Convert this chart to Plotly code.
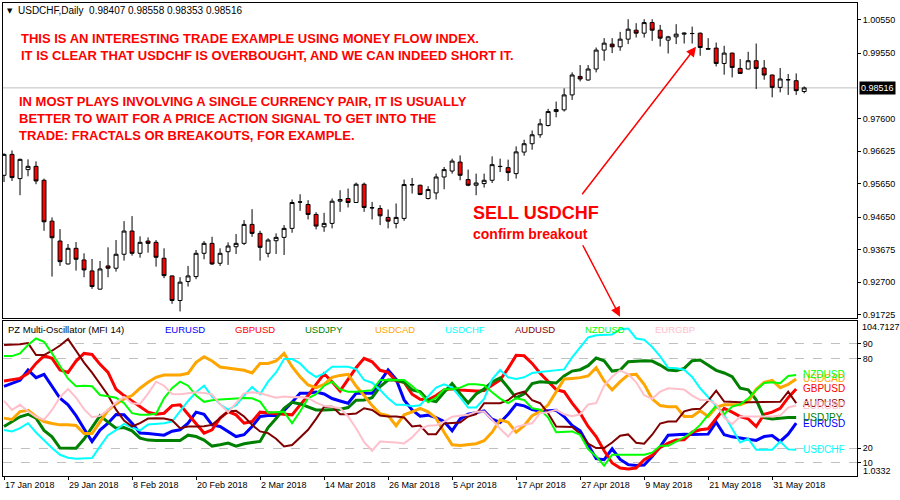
import plotly.graph_objects as go
import pandas as pd

# ---------------- data ----------------
dates = pd.bdate_range("2018-01-17", "2018-06-06").strftime("%Y-%m-%d").tolist()

open_ = [0.95899, 0.96525, 0.95800, 0.96069, 0.96167, 0.95750, 0.94527, 0.93931, 0.93245, 0.93713,
         0.93365, 0.93037, 0.92491, 0.93186, 0.93117, 0.93535, 0.94230, 0.93564, 0.93931, 0.93892,
         0.93415, 0.92887, 0.92151, 0.92718, 0.92867, 0.93564, 0.93862, 0.93266, 0.93612, 0.93761,
         0.93862, 0.94429, 0.94160, 0.93564, 0.93940, 0.94041, 0.94310, 0.95103, 0.95025, 0.94727,
         0.94357, 0.94459, 0.95124, 0.95204, 0.95085, 0.95631, 0.94930, 0.94906, 0.94638, 0.94459,
         0.94608, 0.95622, 0.95601, 0.95204, 0.95371, 0.95848, 0.96027, 0.96295, 0.95771, 0.95601,
         0.95651, 0.95750, 0.96167, 0.96128, 0.95949, 0.96594, 0.96844, 0.97112, 0.97390, 0.97807,
         0.97858, 0.98305, 0.98859, 0.98752, 0.99080, 0.99647, 0.99826, 0.99745, 0.99975, 1.00243,
         1.00153, 1.00470, 1.00243, 0.99945, 1.00043, 1.00124, 1.00141, 1.00153, 0.99694, 0.99706,
         0.99247, 0.99557, 0.99098, 0.99080, 0.99328, 0.99110, 0.98901, 0.98531, 0.98761, 0.98731,
         0.98407]
high = [0.96555, 0.96644, 0.96397, 0.96376, 0.96316, 0.95800, 0.94638, 0.94289, 0.93842, 0.93901,
        0.93564, 0.93394, 0.93335, 0.93743, 0.93961, 0.94527, 0.94677, 0.94071, 0.94041, 0.93961,
        0.93713, 0.92900, 0.92849, 0.93186, 0.93663, 0.93931, 0.94059, 0.93713, 0.93892, 0.94140,
        0.94557, 0.94885, 0.94238, 0.94012, 0.94160, 0.94408, 0.95175, 0.95332, 0.95154, 0.94796,
        0.94775, 0.95204, 0.95452, 0.95502, 0.95681, 0.95681, 0.95103, 0.95004, 0.94876, 0.95055,
        0.95771, 0.95819, 0.95616, 0.95571, 0.95949, 0.96147, 0.96397, 0.96495, 0.96069, 0.95949,
        0.95949, 0.96466, 0.96397, 0.96367, 0.96764, 0.96963, 0.97240, 0.97589, 0.97888, 0.98105,
        0.98502, 0.98979, 0.99199, 0.99199, 0.99724, 1.00004, 1.00004, 1.00192, 1.00571, 1.00452,
        1.00571, 1.00571, 1.00401, 1.00073, 1.00422, 1.00171, 1.00350, 1.00171, 1.00004, 0.99873,
        0.99775, 0.99566, 0.99378, 0.99596, 0.99843, 0.99348, 0.98910, 0.99110, 0.98931, 0.98949,
        0.98558]
low = [0.95699, 0.95729, 0.95303, 0.95869, 0.95631, 0.94238, 0.92867, 0.93186, 0.93230, 0.93046,
       0.92849, 0.92500, 0.92480, 0.92849, 0.93016, 0.93344, 0.93493, 0.93433, 0.93582, 0.93165,
       0.92819, 0.92053, 0.91823, 0.92569, 0.92789, 0.93385, 0.93216, 0.93186, 0.93216, 0.93544,
       0.93812, 0.94059, 0.93344, 0.93445, 0.93544, 0.93514, 0.94179, 0.94834, 0.94578, 0.94280,
       0.94208, 0.94310, 0.94805, 0.94936, 0.95070, 0.94805, 0.94578, 0.94408, 0.94310, 0.94310,
       0.94536, 0.95353, 0.95303, 0.95175, 0.95175, 0.95481, 0.95949, 0.95750, 0.95571, 0.95303,
       0.95532, 0.95669, 0.95997, 0.95729, 0.95800, 0.96486, 0.96665, 0.97023, 0.97360, 0.97637,
       0.97807, 0.98156, 0.98710, 0.98731, 0.98979, 0.99328, 0.99557, 0.99626, 0.99826, 1.00022,
       1.00022, 0.99924, 0.99754, 0.99545, 0.99826, 0.99843, 0.99843, 0.99477, 0.99670, 0.99158,
       0.98910, 0.98830, 0.98943, 0.99074, 0.98484, 0.98761, 0.98233, 0.98382, 0.98305, 0.98305,
       0.98353]
close = [0.96525, 0.95830, 0.96376, 0.96167, 0.95729, 0.94507, 0.94030, 0.93314, 0.93713, 0.93385,
         0.93067, 0.92569, 0.93096, 0.93117, 0.93535, 0.94230, 0.93564, 0.93892, 0.93862, 0.93445,
         0.92896, 0.92151, 0.92700, 0.92887, 0.93564, 0.93862, 0.93245, 0.93564, 0.93782, 0.93862,
         0.94429, 0.94160, 0.93743, 0.93961, 0.94041, 0.94310, 0.95085, 0.95097, 0.94727, 0.94378,
         0.94459, 0.95124, 0.95175, 0.95085, 0.95631, 0.94936, 0.94924, 0.94686, 0.94527, 0.94638,
         0.95622, 0.95613, 0.95324, 0.95472, 0.95848, 0.96069, 0.96325, 0.95899, 0.95601, 0.95669,
         0.95750, 0.96218, 0.96161, 0.95979, 0.96600, 0.96844, 0.97112, 0.97440, 0.97807, 0.97867,
         0.98305, 0.98901, 0.98782, 0.99080, 0.99647, 0.99855, 0.99745, 0.99975, 1.00273, 1.00153,
         1.00470, 1.00243, 1.00004, 1.00043, 1.00124, 1.00153, 1.00144, 0.99724, 0.99676, 0.99247,
         0.99557, 0.99128, 0.98949, 0.99328, 0.99098, 0.98901, 0.98531, 0.98782, 0.98758, 0.98433,
         0.98516]

price_ticks = [1.00550, 0.99550, 0.97600, 0.96625, 0.95650, 0.94650, 0.93675, 0.92700, 0.91725]
bid_price = 0.98516

# MFI(14) per pair
eurusd = [61.3, 63.3, 65.3, 72.2, 67.1, 69.3, 61.1, 53.3, 48.9, 41.7,
          32.9, 24.4, 32.0, 36.6, 42.4, 42.2, 36.6, 30.0, 29.7, 28.9,
          28.6, 31.3, 32.2, 36.6, 44.0, 42.6, 35.5, 34.4, 31.1, 27.7,
          28.9, 34.4, 41.1, 41.7, 41.7, 45.1, 50.6, 56.6, 56.6, 57.5,
          56.2, 53.1, 51.5, 50.0, 56.6, 56.6, 56.6, 64.4, 72.2, 66.0,
          52.2, 45.5, 41.3, 42.0, 40.4, 37.7, 31.5, 39.5, 42.6, 43.7,
          44.9, 39.3, 37.1, 42.6, 49.3, 48.2, 45.7, 44.6, 45.1, 45.3,
          41.1, 35.1, 31.5, 22.2, 12.9, 12.2, 19.5, 12.4, 8.9, 8.4,
          8.6, 14.4, 20.9, 28.6, 29.1, 29.3, 29.1, 29.3, 29.3, 37.3,
          28.9, 27.5, 26.6, 26.2, 25.1, 27.7, 28.4, 24.4, 29.3, 36.6]
gbpusd = [64.9, 66.0, 66.6, 70.0, 76.6, 81.7, 80.0, 72.2, 70.6, 78.2,
          83.3, 82.6, 76.0, 70.6, 59.3, 55.1, 51.5, 47.3, 44.0, 42.6,
          43.3, 48.4, 48.9, 42.6, 36.2, 30.0, 32.2, 40.0, 44.4, 42.2,
          36.6, 37.7, 44.0, 43.5, 43.3, 42.6, 42.2, 48.9, 55.1, 62.6,
          69.7, 64.4, 58.2, 66.0, 73.7, 80.0, 77.7, 72.0, 70.6, 64.9,
          64.0, 56.0, 52.6, 52.2, 55.1, 58.9, 59.7, 58.9, 58.4, 58.2,
          58.4, 62.2, 65.5, 73.3, 82.0, 81.7, 76.6, 70.0, 64.4, 59.1,
          57.7, 50.0, 43.3, 34.4, 27.7, 18.2, 10.0, 6.6, 6.0, 6.6,
          12.2, 15.1, 20.4, 23.3, 25.3, 25.5, 30.6, 32.2, 32.9, 40.0,
          46.6, 44.0, 41.1, 39.5, 34.4, 42.6, 44.0, 46.6, 53.7, 59.5]
usdjpy = [34.4, 37.7, 40.9, 42.6, 40.0, 31.8, 27.5, 20.0, 19.8, 19.8,
          26.0, 33.7, 41.7, 37.3, 33.3, 33.7, 31.5, 26.6, 25.3, 25.1,
          25.1, 25.1, 25.1, 28.6, 27.7, 25.3, 21.3, 22.2, 23.3, 21.3,
          22.9, 23.7, 24.4, 33.7, 39.7, 46.6, 50.6, 49.5, 47.3, 45.5,
          45.5, 45.5, 46.0, 47.1, 52.0, 52.2, 53.7, 61.1, 65.5, 65.5,
          64.0, 58.9, 57.7, 52.0, 51.1, 57.3, 63.1, 56.4, 50.2, 56.2,
          59.5, 64.2, 66.9, 60.4, 53.5, 56.2, 63.1, 64.4, 63.7, 63.5,
          68.2, 71.5, 72.4, 75.1, 80.2, 78.4, 71.5, 72.2, 77.7, 78.2,
          78.4, 78.2, 75.5, 72.2, 71.7, 73.3, 78.4, 78.9, 75.5, 72.0,
          70.2, 67.7, 60.0, 58.9, 52.2, 40.4, 39.5, 40.2, 40.4, 40.4]
usdcad = [40.0, 39.1, 44.4, 45.3, 41.1, 37.7, 36.4, 35.5, 35.5, 35.1,
          29.7, 29.7, 37.5, 45.3, 49.5, 52.9, 55.1, 60.0, 64.0, 67.3,
          68.9, 68.9, 68.9, 70.0, 77.3, 81.1, 78.2, 74.2, 73.5, 72.8,
          72.0, 70.2, 76.6, 76.6, 78.2, 83.3, 74.4, 67.7, 62.2, 60.4,
          62.6, 67.3, 68.6, 69.3, 61.5, 55.1, 48.4, 42.9, 41.7, 34.9,
          42.2, 44.2, 46.6, 44.2, 40.0, 30.6, 22.2, 21.7, 22.4, 22.9,
          24.9, 30.6, 38.9, 37.3, 30.6, 34.9, 41.7, 44.4, 48.9, 57.1,
          66.2, 66.6, 67.1, 68.2, 73.7, 64.9, 58.9, 64.4, 68.9, 69.3,
          62.6, 52.9, 48.4, 47.7, 47.7, 41.1, 41.1, 44.9, 41.1, 47.3,
          48.9, 48.9, 48.9, 51.1, 59.3, 64.0, 65.3, 60.4, 62.6, 66.2]
usdchf = [32.0, 31.1, 33.3, 36.6, 30.4, 25.1, 20.0, 15.5, 13.5, 12.9,
          12.9, 13.3, 21.1, 28.6, 32.0, 36.2, 33.7, 31.8, 35.7, 36.2,
          36.6, 37.7, 44.4, 51.5, 57.3, 61.7, 54.4, 49.3, 45.5, 48.6,
          55.1, 60.9, 56.0, 64.4, 70.6, 79.5, 79.5, 76.6, 71.1, 67.5,
          70.0, 74.4, 74.4, 74.4, 72.8, 65.5, 63.7, 58.9, 53.3, 48.9,
          48.9, 48.0, 48.6, 54.4, 60.4, 62.6, 60.4, 54.0, 47.1, 47.1,
          52.9, 66.0, 72.2, 67.3, 66.2, 67.3, 70.2, 70.9, 71.3, 71.7,
          72.6, 80.6, 87.7, 94.0, 95.5, 95.5, 96.0, 99.5, 100.0, 93.3,
          92.4, 87.7, 81.3, 73.7, 73.3, 72.4, 67.5, 60.0, 54.2, 48.2,
          42.2, 32.9, 23.7, 26.2, 18.9, 18.9, 18.9, 24.4, 19.1, 18.9]
audusd = [88.9, 89.1, 89.5, 90.2, 82.2, 82.2, 85.1, 88.6, 92.9, 85.1,
          77.1, 70.4, 62.6, 55.3, 45.7, 38.4, 34.4, 36.6, 39.7, 40.0,
          39.7, 38.6, 33.3, 34.4, 34.4, 34.6, 35.5, 40.0, 44.4, 44.9,
          41.1, 35.5, 31.1, 30.0, 26.2, 21.1, 22.0, 27.1, 32.2, 39.5,
          47.7, 47.7, 42.6, 42.6, 43.1, 46.6, 45.5, 41.7, 41.1, 41.1,
          40.4, 34.4, 35.1, 29.3, 29.3, 36.4, 36.6, 37.1, 41.1, 42.6,
          50.0, 50.0, 50.0, 52.0, 56.2, 57.7, 52.0, 50.0, 43.3, 34.4,
          34.4, 34.0, 29.5, 22.9, 20.0, 20.0, 23.7, 28.2, 29.1, 23.5,
          22.9, 28.9, 36.4, 37.7, 37.7, 44.6, 46.0, 46.2, 51.5, 58.4,
          51.1, 50.6, 50.6, 50.6, 50.6, 50.9, 50.9, 50.9, 57.7, 50.0]
nzdusd = [81.5, 81.5, 83.3, 88.9, 93.3, 91.1, 83.3, 74.4, 66.4, 61.3,
          61.7, 61.3, 55.5, 54.6, 53.7, 50.0, 43.3, 42.2, 42.2, 42.9,
          53.3, 60.0, 64.4, 61.7, 55.1, 50.9, 52.0, 52.4, 52.9, 53.1,
          53.5, 53.3, 51.1, 43.7, 44.0, 44.2, 36.6, 44.4, 53.3, 56.0,
          61.7, 64.4, 59.3, 57.7, 57.7, 58.0, 58.6, 65.5, 65.5, 65.5,
          65.5, 61.5, 56.6, 50.6, 53.7, 59.3, 59.3, 60.4, 62.6, 62.6,
          62.0, 57.3, 53.1, 50.0, 53.3, 52.2, 46.6, 45.7, 40.4, 30.6,
          31.1, 31.1, 28.9, 19.3, 14.4, 8.2, 15.5, 15.5, 15.5, 15.5,
          15.5, 16.9, 21.5, 21.5, 24.4, 27.1, 30.6, 35.5, 42.2, 48.4,
          42.6, 47.7, 49.3, 53.1, 58.9, 63.5, 64.0, 63.3, 68.2, 68.9]
eurgbp = [51.5, 45.5, 48.9, 44.4, 41.1, 38.9, 45.5, 54.0, 59.5, 53.7,
          46.0, 40.6, 41.5, 45.5, 50.4, 54.2, 50.0, 49.5, 56.4, 64.4,
          61.7, 56.2, 56.0, 56.6, 57.3, 56.9, 55.8, 49.3, 44.0, 50.0,
          56.6, 57.3, 56.6, 55.1, 53.7, 54.4, 54.0, 54.2, 53.5, 50.4,
          48.2, 47.5, 46.6, 41.1, 33.3, 24.0, 18.2, 24.4, 24.2, 23.7,
          23.1, 27.1, 32.9, 34.9, 35.3, 37.7, 40.9, 41.7, 42.2, 44.2,
          44.4, 38.9, 32.9, 27.7, 34.2, 35.5, 36.6, 43.3, 44.0, 45.5,
          42.6, 41.3, 42.6, 49.1, 50.0, 61.7, 67.7, 72.0, 69.5, 64.0,
          55.3, 52.9, 57.7, 60.0, 59.7, 59.1, 55.1, 52.2, 52.2, 49.3,
          40.4, 36.0, 41.1, 41.1, 41.1, 41.1, 41.1, 41.7, 47.1, 48.4]

pairs = ["EURUSD", "GBPUSD", "USDJPY", "USDCAD", "USDCHF", "AUDUSD", "NZDUSD", "EURGBP"]
mfi = [eurusd, gbpusd, usdjpy, usdcad, usdchf, audusd, nzdusd, eurgbp]
colors = ["#0000ff", "#ff0000", "#008000", "#ffa500", "#00ffff", "#800000", "#00ff00", "#ffc0cb"]
widths = [3, 3, 3, 3, 2, 2, 2, 2]
osc_levels = [90, 80, 20, 10]
osc_min, osc_max = 1.0332, 104.7127

tick_dates = dates[::8][:13]
tick_text = [pd.Timestamp(d).strftime("%d %b %Y").lstrip("0") for d in tick_dates]

# ---------------- figure ----------------
FONT = "Liberation Sans, Arial, sans-serif"
fig = go.Figure()

fig.add_trace(go.Candlestick(
    x=dates, open=open_, high=high, low=low, close=close,
    increasing=dict(fillcolor="#ffffff", line=dict(color="#000000", width=1)),
    decreasing=dict(fillcolor="#ff0000", line=dict(color="#000000", width=1)),
    xaxis="x", yaxis="y", showlegend=False, hoverinfo="skip"))

for name, vals, col, w in zip(pairs, mfi, colors, widths):
    fig.add_trace(go.Scatter(
        x=dates[:len(vals)], y=vals, mode="lines", name=name,
        line=dict(color=col, width=w), xaxis="x2", yaxis="y2",
        showlegend=False, hoverinfo="skip"))

W, H = 900, 500
xdom = [2.5 / W, 857 / W]
ydom1 = [1 - 319 / H, 1 - 2.7 / H]
ydom2 = [1 - 478.3 / H, 1 - 322.7 / H]
xr = [-0.19, 106.6]

# price range from pixel geometry of the reference
ppx = (1.0055 - 0.91725) / 296.0
yr1 = [1.0055 - (319 - 20) * ppx, 1.0055 + (20 - 2.7) * ppx]

axis_common = dict(showline=True, linecolor="#000000", linewidth=1, mirror=True,
                   zeroline=False, showgrid=False)
TICKFONT = dict(family=FONT, size=9, color="#000000")

fig.update_layout(
    width=W, height=H, margin=dict(l=0, r=0, t=0, b=0),
    paper_bgcolor="#ffffff", plot_bgcolor="#ffffff",
    font=dict(family=FONT, size=10, color="#000000"),
    xaxis=dict(domain=xdom, anchor="y", type="category", range=xr,
               showticklabels=False, ticks="", rangeslider=dict(visible=False),
               **axis_common),
    yaxis=dict(domain=ydom1, anchor="x", side="right", range=yr1,
               tickmode="array", tickvals=price_ticks,
               ticktext=[f"{v:.5f}" for v in price_ticks],
               ticks="outside", ticklen=3, tickcolor="#000000",
               tickfont=TICKFONT, **axis_common),
    xaxis2=dict(domain=xdom, anchor="y2", type="category", range=xr,
                tickmode="array", tickvals=tick_dates, ticktext=tick_text,
                ticks="outside", ticklen=3, tickcolor="#000000", tickangle=0,
                ticklabelposition="outside right",
                tickfont=TICKFONT, **axis_common),
    yaxis2=dict(domain=ydom2, anchor="x2", side="right", range=[osc_min, osc_max],
                tickmode="array", tickvals=osc_levels,
                ticktext=[str(v) for v in osc_levels],
                ticks="outside", ticklen=3, tickcolor="#000000",
                tickfont=TICKFONT,
                showline=True, linecolor="#000000", linewidth=1, mirror=True,
                zeroline=False, showgrid=True, gridcolor="#c0c0c0",
                griddash="dash", gridwidth=1),
)

# bid line
fig.add_shape(type="line", xref="x domain", yref="y", x0=0, x1=1,
              y0=bid_price, y1=bid_price, line=dict(color="#c0c0c0", width=1),
              layer="below")

ann = []
ann.append(dict(xref="paper", yref="y", x=859 / W, y=bid_price, xanchor="left",
                yanchor="middle", text=f"{bid_price:.5f}", showarrow=False,
                bgcolor="#000000", font=dict(color="#ffffff", size=9, family=FONT),
                borderpad=1))
# header
ann.append(dict(xref="paper", yref="paper", x=5 / W, y=1 - 11 / H, xanchor="left",
                yanchor="middle", text="▼", showarrow=False,
                font=dict(size=7, color="#000000", family="DejaVu Sans")))
ann.append(dict(xref="paper", yref="paper", x=16 / W, y=1 - 11 / H, xanchor="left",
                yanchor="middle", showarrow=False,
                text=f"USDCHF,Daily  {open_[-1]:.5f} {high[-1]:.5f} {low[-1]:.5f} {close[-1]:.5f}",
                font=dict(size=10, color="#000000", family=FONT)))
# red commentary
red = "#ff0000"
ann.append(dict(xref="paper", yref="paper", x=19 / W, y=1 - 47.5 / H, xanchor="left",
                yanchor="middle", align="left", showarrow=False,
                text="<b>THIS IS AN INTERESTING TRADE EXAMPLE USING MONEY FLOW INDEX.<br>"
                     "IT IS CLEAR THAT USDCHF IS OVERBOUGHT, AND WE CAN INDEED SHORT IT.</b>",
                font=dict(size=13, color=red, family=FONT)))
ann.append(dict(xref="paper", yref="paper", x=17 / W, y=1 - 119 / H, xanchor="left",
                yanchor="middle", align="left", showarrow=False,
                text="<b>IN MOST PLAYS INVOLVING A SINGLE CURRENCY PAIR, IT IS USUALLY<br>"
                     "BETTER TO WAIT FOR A PRICE ACTION SIGNAL TO GET INTO THE<br>"
                     "TRADE: FRACTALS OR BREAKOUTS, FOR EXAMPLE.</b>",
                font=dict(size=13, color=red, family=FONT)))
ann.append(dict(xref="paper", yref="paper", x=471 / W, y=1 - 214 / H, xanchor="left",
                yanchor="middle", showarrow=False, text="<b>SELL USDCHF</b>",
                font=dict(size=18, color=red, family=FONT)))
ann.append(dict(xref="paper", yref="paper", x=471 / W, y=1 - 235 / H, xanchor="left",
                yanchor="middle", showarrow=False, text="<b>confirm breakout</b>",
                font=dict(size=14, color=red, family=FONT)))
# arrows
ann.append(dict(xref="paper", yref="paper", x=696 / W, y=1 - 47 / H, ax=-115, ay=149,
                text="", showarrow=True, arrowhead=2, arrowsize=1.3, arrowwidth=1.5,
                arrowcolor=red))
ann.append(dict(xref="paper", yref="paper", x=620 / W, y=1 - 318 / H, ax=-38, ay=-73,
                text="", showarrow=True, arrowhead=2, arrowsize=1.3, arrowwidth=1.5,
                arrowcolor=red))
# oscillator header
SMALL = 9.5
ann.append(dict(xref="paper", yref="paper", x=6 / W, y=1 - 331 / H, xanchor="left",
                yanchor="middle", showarrow=False, text="PZ Multi-Oscillator (MFI 14)",
                font=dict(size=SMALL, color="#000000", family=FONT)))
for k, (name, col) in enumerate(zip(pairs, colors)):
    ann.append(dict(xref="paper", yref="paper", x=(163 + 70 * k) / W, y=1 - 331 / H,
                    xanchor="left", yanchor="middle", showarrow=False, text=name,
                    font=dict(size=SMALL, color=col, family=FONT)))
# end-of-line labels
for name, vals, col in zip(pairs, mfi, colors):
    ann.append(dict(xref="x2", yref="y2", x=dates[len(vals) - 1], y=vals[-1],
                    xanchor="left", yanchor="middle", xshift=5, showarrow=False,
                    text=name, font=dict(size=10, color=col, family=FONT)))
# oscillator range labels
ann.append(dict(xref="paper", yref="paper", x=860 / W, y=1 - 328 / H, xanchor="left",
                yanchor="middle", showarrow=False, text=f"{osc_max:.4f}",
                font=dict(size=9, color="#000000", family=FONT)))
ann.append(dict(xref="paper", yref="paper", x=861 / W, y=1 - 473 / H, xanchor="left",
                yanchor="middle", showarrow=False, text=f"{osc_min:.4f}",
                font=dict(size=9, color="#000000", family=FONT)))

fig.update_layout(annotations=ann)
fig.write_html("out.html", config={"displayModeBar": False},
               post_script="document.body.style.margin='0';document.body.style.padding='0';")
